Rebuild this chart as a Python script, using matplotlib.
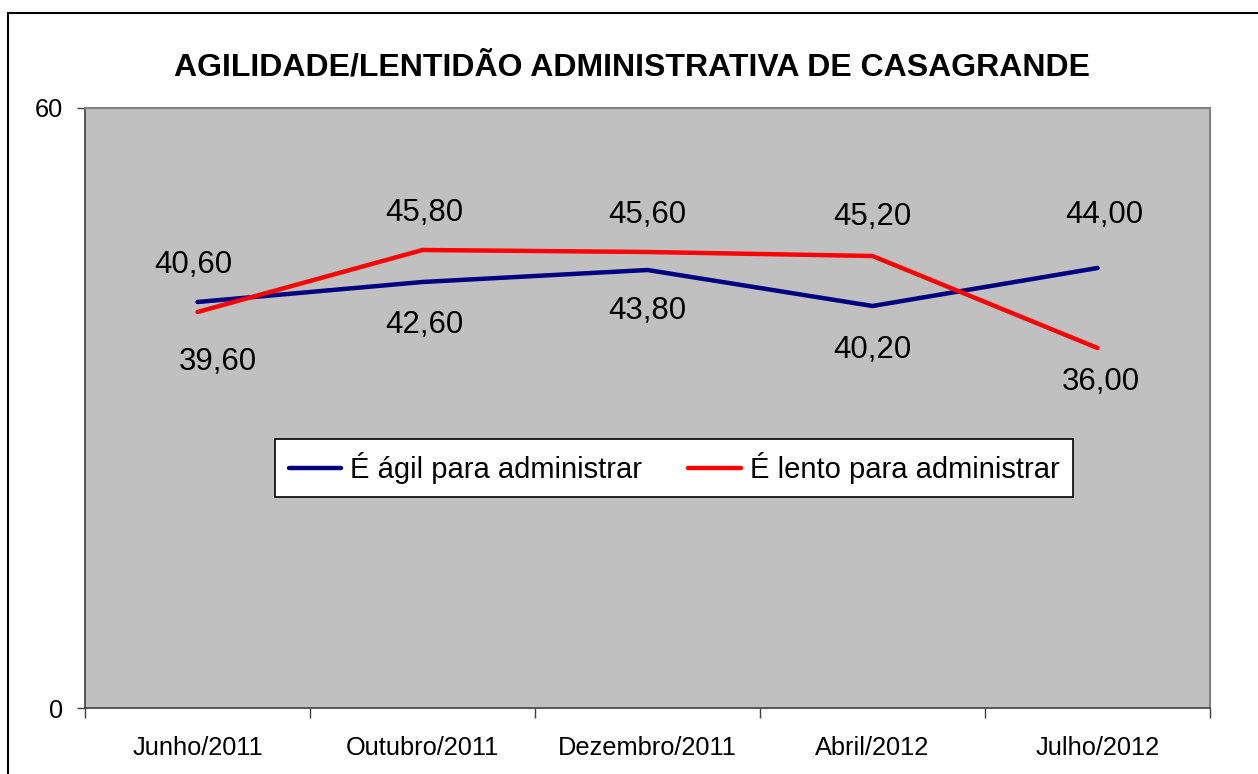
import matplotlib
matplotlib.use("Agg")
import matplotlib.pyplot as plt
from matplotlib.patches import Rectangle

plt.rcParams['font.family'] = ['Liberation Sans', 'DejaVu Sans']

categories = ["Junho/2011", "Outubro/2011", "Dezembro/2011", "Abril/2012", "Julho/2012"]
agil = [40.60, 42.60, 43.80, 40.20, 44.00]
lento = [39.60, 45.80, 45.60, 45.20, 36.00]
title = "AGILIDADE/LENTIDÃO ADMINISTRATIVA DE CASAGRANDE"
label_agil = "É ágil para administrar"
label_lento = "É lento para administrar"

# label offsets in pixels (dx, dy) relative to point
off_agil = [(-4, 37), (2, -43), (0, -41), (0, -44), (7, 53)]
off_lento = [(20, -50), (2, 37), (0, 37), (0, 39), (3, -34)]

fig = plt.figure(figsize=(12.58, 7.74), dpi=100)
fig.patch.set_facecolor('white')
ax = fig.add_axes([85/1258, 1-708/774, 1125/1258, 600/774])
ax.set_facecolor('#C0C0C0')

x = list(range(len(categories)))
ax.plot(x, agil, color='#000080', lw=3.2, solid_capstyle='round', label=label_agil, zorder=3)
ax.plot(x, lento, color='#FF0000', lw=3.2, solid_capstyle='round', label=label_lento, zorder=3)

def fmt(v):
    return f"{v:.2f}".replace('.', ',')

for xi, v, (dx, dy) in zip(x, agil, off_agil):
    ax.annotate(fmt(v), (xi, v), xytext=(dx*0.72, dy*0.72), textcoords='offset points',
                ha='center', va='center', fontsize=22.5, color='black', zorder=4)
for xi, v, (dx, dy) in zip(x, lento, off_lento):
    ax.annotate(fmt(v), (xi, v), xytext=(dx*0.72, dy*0.72), textcoords='offset points',
                ha='center', va='center', fontsize=22.5, color='black', zorder=4)

ax.set_xlim(-0.5, len(categories) - 0.5)
ax.set_ylim(0, 60)
ax.set_yticks([0, 60])
ax.set_yticklabels(['0', '60'], fontsize=18.3)
ax.set_xticks(x)
ax.set_xticklabels(categories, fontsize=18.3)
ax.tick_params(axis='x', length=0, pad=20)
ax.set_xticks([i - 0.5 for i in range(len(categories) + 1)], minor=True)
ax.tick_params(axis='x', which='minor', length=7, width=1, direction='out', color='#404040')
ax.tick_params(axis='y', length=6, width=1, direction='out', color='#404040', pad=10)

for s in ['top', 'right']:
    ax.spines[s].set_color('#808080')
    ax.spines[s].set_linewidth(1.5)
for s in ['left', 'bottom']:
    ax.spines[s].set_color('#404040')
    ax.spines[s].set_linewidth(1.2)

leg = ax.legend(loc='center', bbox_to_anchor=(674/1125 - 85/1125, 0.40), ncol=2, fontsize=21,
                frameon=True, fancybox=False, edgecolor='black', facecolor='white',
                framealpha=1, handlelength=1.8, handletextpad=0.3, columnspacing=1.6,
                borderpad=0.45, borderaxespad=0)
leg.get_frame().set_linewidth(1.2)

fig.text(632/1258, 1-67/774, title, ha='center', va='center', fontsize=23,
         fontweight='bold', color='black')

fig.patches.append(Rectangle((8/1258, -0.1), 1.2, 1-13/774 + 0.1, transform=fig.transFigure,
                             fill=False, edgecolor='black', lw=1.5, zorder=10))

fig.savefig('out.png', dpi=100, facecolor='white')
